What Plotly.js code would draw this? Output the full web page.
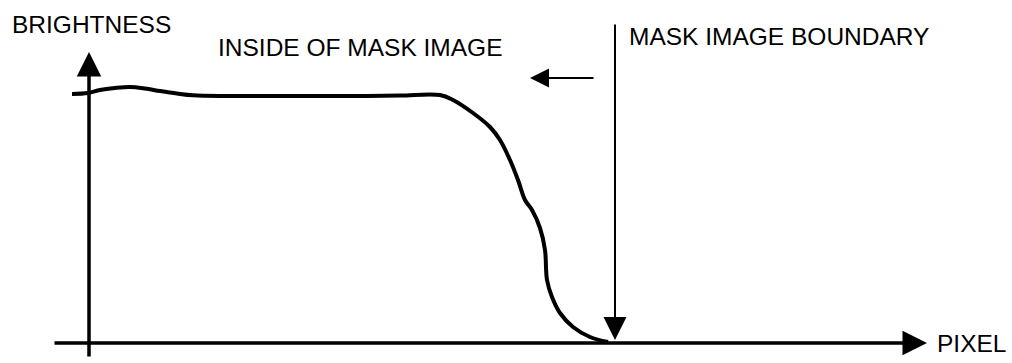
<!DOCTYPE html>
<html>
<head>
<meta charset="utf-8">
<script src="https://cdn.plot.ly/plotly-3.0.1.min.js"></script>
<style>
  html, body { margin: 0; padding: 0; background: #fff; }
  #chart { width: 1012px; height: 363px; }
</style>
</head>
<body>
<div id="chart"></div>
<script>
// Brightness profile across pixel position
const pixelPos   = [-17, -1, 11, 26, 41, 56, 71, 88, 104, 138, 171, 211, 261, 311, 351, 364, 384, 401, 411, 421, 429, 436, 443, 451, 456, 458, 463, 471, 484, 501, 519];
const brightness = [249, 250, 253, 255, 256, 254.5, 252, 249.5, 247.7, 247, 247, 247, 247, 247.5, 248, 243, 230, 216, 203, 183, 163, 143, 133, 115, 93, 63, 46, 30, 16, 6, 1];

// Labels
const yLabel = "BRIGHTNESS";
const xLabel = "PIXEL";
const insideLabel = "INSIDE OF MASK IMAGE";
const boundaryLabel = "MASK IMAGE BOUNDARY";

// Key locations in data units
const boundaryPixel = 526;
const xAxisEnd = 838;
const yAxisEnd = 291;

const font = { family: "Liberation Sans, Arial, sans-serif", size: 24.5, color: "#000" };

function arrow(x, y, ax, ay, width, size) {
  return {
    x: x, y: y, ax: ax, ay: ay, xref: "x", yref: "y", axref: "x", ayref: "y",
    text: "", showarrow: true, arrowhead: 2, arrowsize: size, arrowwidth: width,
    arrowcolor: "#000", standoff: 0, startstandoff: 0
  };
}
function label(text, x, y) {
  return { x: x, y: y, xref: "x", yref: "y", text: text, showarrow: false,
           xanchor: "left", yanchor: "middle", font: font };
}

const trace = {
  x: pixelPos, y: brightness, type: "scatter", mode: "lines",
  line: { color: "#000", width: 4, shape: "spline", smoothing: 1 },
  hoverinfo: "skip"
};

const layout = {
  width: 1012, height: 363,
  margin: { l: 0, r: 0, t: 0, b: 0 },
  paper_bgcolor: "#fff", plot_bgcolor: "#fff",
  showlegend: false,
  xaxis: { range: [-89, 923], visible: false, fixedrange: true },
  yaxis: { range: [-20, 343], visible: false, fixedrange: true },
  annotations: [
    arrow(xAxisEnd, 0, -36, 0, 3.5, 1.4),
    arrow(0, yAxisEnd, 0, -15, 3.5, 1.4),
    arrow(boundaryPixel, 3, boundaryPixel, 320, 2, 2.3),
    arrow(441, 265, 506, 265, 2, 1.9),
    label(yLabel, -79, 319),
    label(insideLabel, 127, 296),
    label(boundaryLabel, 538, 307),
    label(xLabel, 846, 0)
  ]
};

Plotly.newPlot("chart", [trace], layout, { staticPlot: true, displayModeBar: false });
</script>
</body>
</html>
